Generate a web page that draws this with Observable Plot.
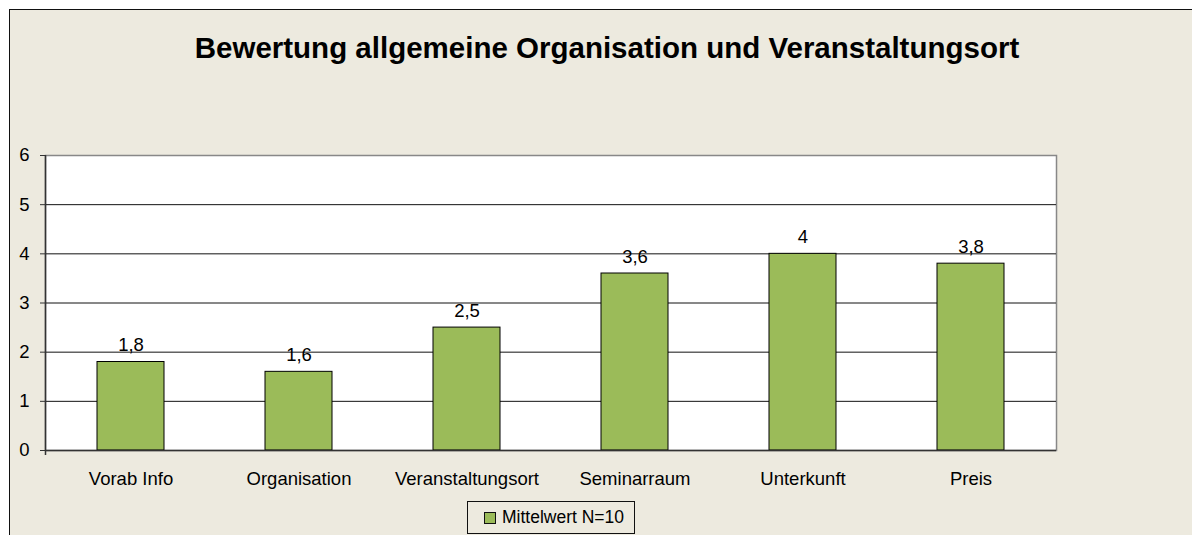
<!DOCTYPE html>
<html>
<head>
<meta charset="utf-8">
<script src="https://cdn.jsdelivr.net/npm/d3@7"></script>
<script src="https://cdn.jsdelivr.net/npm/@observablehq/plot@0.6"></script>
<style>
  html, body { margin: 0; padding: 0; background: #fff; }
  #wrap { position: relative; width: 1192px; height: 535px; overflow: hidden; background: #fff; font-family: "Liberation Sans", Arial, sans-serif; }
  #frame { position: absolute; left: 9px; top: 9px; width: 1200px; height: 600px; background: #EDEADF; border: 1.5px solid #111; box-sizing: border-box; }
  #title { position: absolute; left: 0; width: 1214px; top: 31px; text-align: center; font-weight: bold; font-size: 29.5px; line-height: 34px; color: #000; }
  #chart { position: absolute; left: 0; top: 0; }
  #legend { position: absolute; left: 467px; top: 501px; width: 168px; height: 33px; border: 1px solid #111; box-sizing: border-box; background: #EDEADF; font-size: 17.5px; line-height: 31px; color: #000; }
  #legend .sw { position: absolute; left: 16px; top: 10px; width: 10px; height: 10px; background: #9BBB59; border: 1px solid #111; }
  #legend .lt { position: absolute; left: 34px; top: 0; }
</style>
</head>
<body>
<div id="wrap">
  <div id="frame"></div>
  <div id="chart"></div>
  <div id="title">Bewertung allgemeine Organisation und Veranstaltungsort</div>
  <div id="legend"><div class="sw"></div><div class="lt">Mittelwert N=10</div></div>
</div>
<script>
const categories = ["Vorab Info", "Organisation", "Veranstaltungsort", "Seminarraum", "Unterkunft", "Preis"];
const values = [1.8, 1.6, 2.5, 3.6, 4, 3.8];
const yTicks = [0, 1, 2, 3, 4, 5, 6];
const seriesName = "Mittelwert N=10";

const data = categories.map((c, i) => ({cat: c, v: values[i]}));
const fmt = v => String(v).replace(".", ",");

const chart = Plot.plot({
  width: 1192,
  height: 535,
  marginTop: 155,
  marginBottom: 85,
  marginLeft: 45,
  marginRight: 136,
  style: {background: "transparent", fontFamily: "Liberation Sans, Arial, sans-serif", fontSize: "18.5px", color: "#000"},
  x: {domain: categories, paddingInner: 0.6, paddingOuter: 0.3, label: null},
  y: {domain: [0, 6], label: null},
  marks: [
    Plot.frame({fill: "white", stroke: "#888", strokeWidth: 1.5}),
    Plot.ruleY(yTicks.filter(t => t > 0 && t < 6), {stroke: "#111", strokeWidth: 1}),
    Plot.barY(data, {x: "cat", y: "v", fill: "#9BBB59", stroke: "#000", strokeWidth: 1}),
    Plot.ruleY([0], {stroke: "#333", strokeWidth: 1.5}),
    Plot.axisY({ticks: yTicks, tickSize: 5, tickPadding: 11, stroke: "#333", fontSize: 18.5, tickFormat: d => String(d), label: null}),
    Plot.axisX({tickSize: 0, tickPadding: 21, fontSize: 18.5, label: null}),
    Plot.text(data, {x: "cat", y: "v", text: d => fmt(d.v), lineAnchor: "bottom", dy: -11, fontSize: 18.5, fill: "#000"})
  ]
});
document.getElementById("chart").appendChild(chart);
const svg = d3.select(chart);
svg.append("line").attr("x1", 45.5).attr("x2", 45.5).attr("y1", 155).attr("y2", 455).attr("stroke", "#333").attr("stroke-width", 1.5);
</script>
</body>
</html>
